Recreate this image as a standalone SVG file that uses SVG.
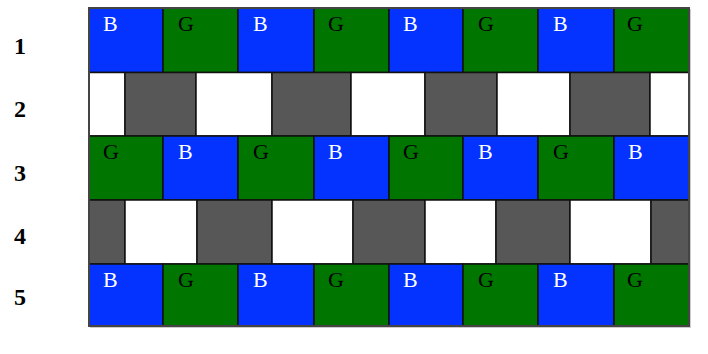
<svg xmlns="http://www.w3.org/2000/svg" width="708" height="354" viewBox="0 0 708 354">
<style>
.b{fill:#0433ff;stroke:#111;stroke-width:1.5}
.g{fill:#007600;stroke:#111;stroke-width:1.5}
.d{fill:#575757;stroke:#111;stroke-width:1.5}
.w{fill:#ffffff;stroke:#111;stroke-width:1.5}
.lb{font-family:"Liberation Serif","DejaVu Serif",serif;font-size:22px;fill:#ffffff}
.lg{font-family:"Liberation Serif","DejaVu Serif",serif;font-size:22px;fill:#000000}
.n{font-family:"Liberation Serif","DejaVu Serif",serif;font-size:24px;font-weight:bold;fill:#000}
</style>
<rect x="0" y="0" width="708" height="354" fill="#ffffff"/>
<rect x="90" y="9" width="601" height="319" fill="#cccccc"/>
<g id="row1">
<rect class="b" x="89" y="8" width="74" height="64.5"/>
<rect class="g" x="163" y="8" width="75" height="64.5"/>
<rect class="b" x="238" y="8" width="76" height="64.5"/>
<rect class="g" x="314" y="8" width="75" height="64.5"/>
<rect class="b" x="389" y="8" width="74" height="64.5"/>
<rect class="g" x="463" y="8" width="75" height="64.5"/>
<rect class="b" x="538" y="8" width="76" height="64.5"/>
<rect class="g" x="614" y="8" width="75" height="64.5"/>
<text class="lb" x="103" y="31">B</text>
<text class="lg" x="178" y="31">G</text>
<text class="lb" x="253" y="31">B</text>
<text class="lg" x="328" y="31">G</text>
<text class="lb" x="403" y="31">B</text>
<text class="lg" x="478" y="31">G</text>
<text class="lb" x="553" y="31">B</text>
<text class="lg" x="627" y="31">G</text>
</g>
<g id="row2">
<rect class="w" x="89" y="72.5" width="36" height="63.5"/>
<rect class="d" x="125" y="72.5" width="71" height="63.5"/>
<rect class="w" x="196" y="72.5" width="76" height="63.5"/>
<rect class="d" x="272" y="72.5" width="79" height="63.5"/>
<rect class="w" x="351" y="72.5" width="74" height="63.5"/>
<rect class="d" x="425" y="72.5" width="72" height="63.5"/>
<rect class="w" x="497" y="72.5" width="73" height="63.5"/>
<rect class="d" x="570" y="72.5" width="80" height="63.5"/>
<rect class="w" x="650" y="72.5" width="39" height="63.5"/>
</g>
<g id="row3">
<rect class="g" x="89" y="136" width="74" height="64"/>
<rect class="b" x="163" y="136" width="75" height="64"/>
<rect class="g" x="238" y="136" width="76" height="64"/>
<rect class="b" x="314" y="136" width="75" height="64"/>
<rect class="g" x="389" y="136" width="74" height="64"/>
<rect class="b" x="463" y="136" width="75" height="64"/>
<rect class="g" x="538" y="136" width="76" height="64"/>
<rect class="b" x="614" y="136" width="75" height="64"/>
<text class="lg" x="103" y="159">G</text>
<text class="lb" x="178" y="159">B</text>
<text class="lg" x="253" y="159">G</text>
<text class="lb" x="328" y="159">B</text>
<text class="lg" x="403" y="159">G</text>
<text class="lb" x="478" y="159">B</text>
<text class="lg" x="553" y="159">G</text>
<text class="lb" x="628" y="159">B</text>
</g>
<g id="row4">
<rect class="d" x="89" y="200" width="36" height="64"/>
<rect class="w" x="125" y="200" width="72" height="64"/>
<rect class="d" x="197" y="200" width="75" height="64"/>
<rect class="w" x="272" y="200" width="81" height="64"/>
<rect class="d" x="353" y="200" width="72" height="64"/>
<rect class="w" x="425" y="200" width="71" height="64"/>
<rect class="d" x="496" y="200" width="74" height="64"/>
<rect class="w" x="570" y="200" width="81" height="64"/>
<rect class="d" x="651" y="200" width="38" height="64"/>
</g>
<g id="row5">
<rect class="b" x="89" y="264" width="74" height="62"/>
<rect class="g" x="163" y="264" width="75" height="62"/>
<rect class="b" x="238" y="264" width="76" height="62"/>
<rect class="g" x="314" y="264" width="75" height="62"/>
<rect class="b" x="389" y="264" width="74" height="62"/>
<rect class="g" x="463" y="264" width="75" height="62"/>
<rect class="b" x="538" y="264" width="76" height="62"/>
<rect class="g" x="614" y="264" width="75" height="62"/>
<text class="lb" x="103" y="287">B</text>
<text class="lg" x="178" y="287">G</text>
<text class="lb" x="253" y="287">B</text>
<text class="lg" x="328" y="287">G</text>
<text class="lb" x="403" y="287">B</text>
<text class="lg" x="478" y="287">G</text>
<text class="lb" x="553" y="287">B</text>
<text class="lg" x="627" y="287">G</text>
</g>
<rect x="89" y="8" width="600" height="318" fill="none" stroke="#444" stroke-width="2"/>
<g id="row-numbers">
<text class="n" x="14" y="54">1</text>
<text class="n" x="14" y="117">2</text>
<text class="n" x="14" y="181">3</text>
<text class="n" x="14" y="244">4</text>
<text class="n" x="14" y="305">5</text>
</g>
</svg>
